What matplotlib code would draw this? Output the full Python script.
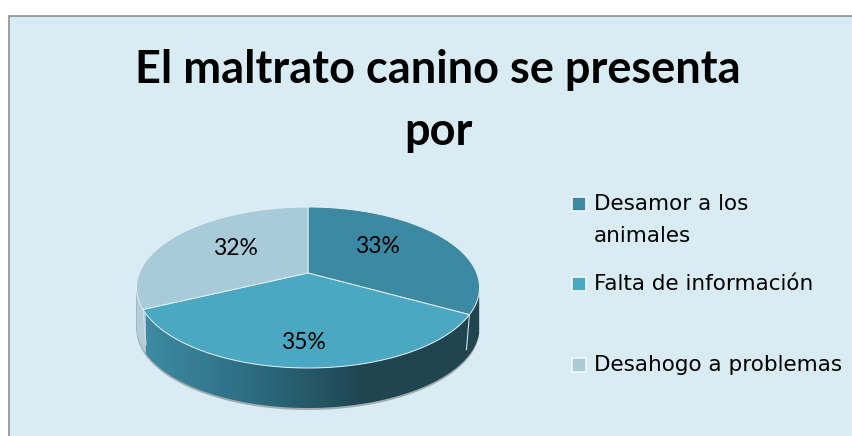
import matplotlib
matplotlib.use('Agg')
import matplotlib.pyplot as plt
import numpy as np
from matplotlib.colors import LinearSegmentedColormap
from matplotlib.patches import Polygon, Rectangle

title_lines = ['El maltrato canino se presenta', 'por']
categories = ['Desamor a los\nanimales', 'Falta de información', 'Desahogo a problemas']
percentages = [33, 35, 32]
colors = ['#3b89a2', '#4aa8c3', '#a7cbd9']

W, H = 853, 436
BG = '#daecf3'
# ellipse of the top face, and the off-centre apex where the slices meet
CX, CY, RX, RY = 308, 287.5, 171.5, 80.5
AX_, AY_ = 308, 273
DEPTH = 40


def rim_point(theta):
	# ray from the apex out to the rim, theta clockwise from 12 o'clock
	dx, dy = np.sin(theta) * RX, -np.cos(theta) * RY
	ox, oy = (AX_ - CX) / RX, (AY_ - CY) / RY
	ux, uy = dx / RX, dy / RY
	a = ux ** 2 + uy ** 2
	b = 2 * (ox * ux + oy * uy)
	c = ox ** 2 + oy ** 2 - 1
	t = (-b + np.sqrt(b ** 2 - 4 * a * c)) / (2 * a)
	return AX_ + t * dx, AY_ + t * dy


def main():
	fig = plt.figure(figsize=(W / 100, H / 100), dpi=100, facecolor='white')
	ax = fig.add_axes([0, 0, 1, 1])
	ax.set_xlim(0, W)
	ax.set_ylim(H, 0)
	ax.axis('off')

	ax.add_patch(Rectangle((9, 16.5), W, H, fc=BG, ec='#8f8f8f', lw=1.2, zorder=0))

	# faint shadow, then the side wall with its dark to the right gradient
	t = np.linspace(0, np.pi, 200)
	rim_x = CX + RX * np.cos(t)
	rim_y = CY + RY * np.sin(t)
	wall = np.column_stack([
		np.r_[rim_x, rim_x[::-1]],
		np.r_[rim_y, rim_y[::-1] + DEPTH],
	])
	ax.add_patch(Polygon(wall + [0, 2], fc='#a3abae', ec='none', zorder=1))
	wall_patch = Polygon(wall, fc='none', ec='none', zorder=2)
	ax.add_patch(wall_patch)
	cmap = LinearSegmentedColormap.from_list('wall', ['#3f8ea6', '#2d6d82', '#1f4550', '#1f4550'])
	im = ax.imshow(np.linspace(0, 1, 256).reshape(1, -1), cmap=cmap, aspect='auto',
		extent=(CX - RX, CX + RX, CY + RY + DEPTH, CY), zorder=2)
	im.set_clip_path(wall_patch)
	ax.set_xlim(0, W)
	ax.set_ylim(H, 0)

	# left end of the wall belongs to the light slice
	edges = np.cumsum([0] + percentages) / 100 * 2 * np.pi
	seam_x = rim_point(edges[2])[0]
	keep = rim_x < seam_x + 3
	light = np.column_stack([
		np.r_[rim_x[keep], rim_x[keep][::-1]],
		np.r_[rim_y[keep], rim_y[keep][::-1] + DEPTH],
	])
	ax.add_patch(Polygon(light, fc='#b4cdd7', ec='none', zorder=2.2))

	# top face
	for i, pct in enumerate(percentages):
		thetas = np.linspace(edges[i], edges[i + 1], 120)
		pts = [(AX_, AY_)] + [rim_point(th) for th in thetas]
		ax.add_patch(Polygon(pts, fc=colors[i], ec='#e4eff3', lw=0.7, zorder=3, joinstyle='round'))
		# seam on the wall at each slice edge that falls in the visible half
		x, y = rim_point(edges[i + 1])
		if y > CY:
			ax.plot([x, x - np.sign(x - CX) * 3], [y, y + DEPTH - 5], color='#d5dfe3', lw=0.8, zorder=2.5)

	label_pos = [(377, 246), (303, 342), (235, 248)]
	for pct, (x, y) in zip(percentages, label_pos):
		ax.text(x, y, f'{pct}%', ha='center', va='center', fontsize=16.5,
			family='Lato', color='black', zorder=4)

	ax.text(438, 70, title_lines[0], ha='center', va='center', fontsize=32.5, family='Lato',
		fontweight='bold', color='black')
	ax.text(438, 132, title_lines[1], ha='center', va='center', fontsize=32.5, family='Lato',
		fontweight='bold', color='black')

	# legend
	legend_y = [204, 284, 365]
	for name, color, y in zip(categories, colors, legend_y):
		ax.add_patch(Rectangle((572, y - 7), 14, 14, fc=color, ec='#f2f8fa', lw=1.2, zorder=3))
		lines = name.split('\n')
		for j, line in enumerate(lines):
			ax.text(594, y + j * 32, line, ha='left', va='center', fontsize=15.5,
				family='DejaVu Sans', color='black')

	fig.savefig('out.png', dpi=100, facecolor='white')


if __name__ == '__main__':
	main()
